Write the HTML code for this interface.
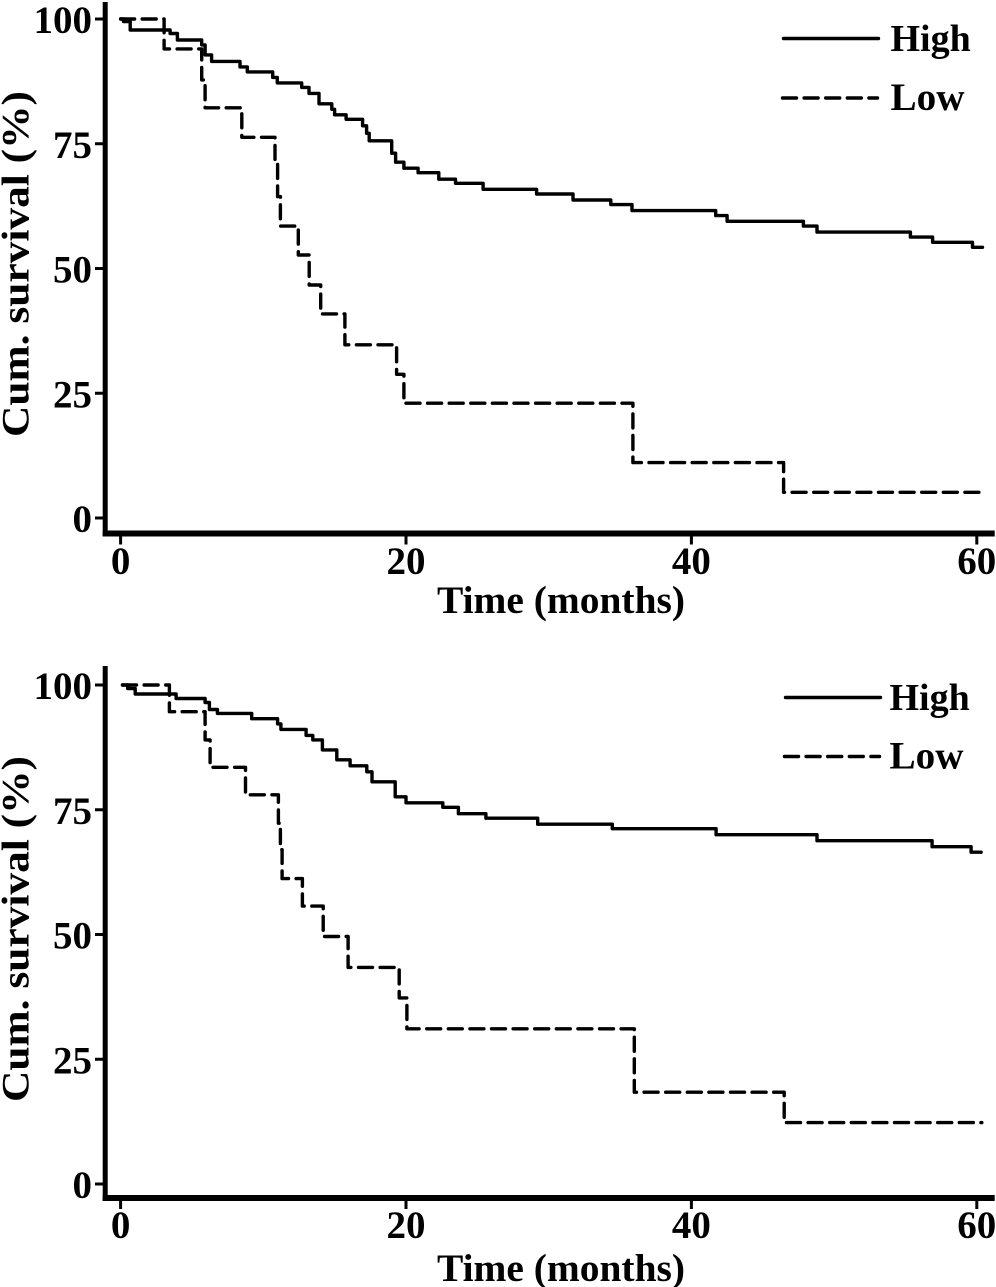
<!DOCTYPE html>
<html>
<head>
<meta charset="utf-8">
<title>Survival curves</title>
<style>
html,body{margin:0;padding:0;background:#fff;width:996px;height:1287px;overflow:hidden}
svg{display:block}
text{font-family:"Liberation Serif",serif;font-weight:bold;fill:#000}
</style>
</head>
<body>
<svg id="chart" width="996" height="1287" viewBox="0 0 996 1287" xmlns="http://www.w3.org/2000/svg">
  <g id="panel-top"></g>
  <g id="panel-bottom"></g>
</svg>
<script>
const xTickLabels = [0, 20, 40, 60];
const yTickLabels = [0, 25, 50, 75, 100];
const seriesNames = ["High", "Low"];
const xAxisTitle = "Time (months)";
const yAxisTitle = "Cum. survival (%)";

const topHighTimes = [0, 0.2, 0.67, 3.47, 3.98, 5.68, 5.92, 6.38, 8.37, 8.88, 10.66, 10.98, 12.69, 13.2, 13.9, 14.8, 15.0, 15.8, 16.96, 17.24, 17.42, 19.0, 19.27, 19.85, 20.85, 22.3, 23.47, 25.4, 29.15, 31.7, 34.35, 35.84, 41.7, 42.5, 47.85, 48.8, 55.35, 56.9, 59.7, 60.4];
const topHighSurvival = [100, 99.5, 97.8, 97.1, 95.8, 94.8, 92.8, 91.5, 90.4, 89.4, 88.3, 87.2, 86.3, 85.1, 83, 81.9, 80.8, 79.9, 78.6, 77.1, 75.6, 73.1, 71.3, 70.1, 69.2, 67.9, 67.07, 65.87, 64.93, 63.73, 62.8, 61.6, 60.6, 59.45, 58.5, 57.3, 56.3, 55.25, 54.25, 54.25];
const topLowTimes = [0, 3.05, 5.68, 5.92, 8.49, 10.82, 11.0, 11.2, 12.45, 13.22, 14.02, 15.72, 19.34, 19.85, 35.9, 46.46, 60.4];
const topLowSurvival = [100, 94, 87.8, 82.2, 76.3, 71, 64.4, 58.5, 52.7, 46.7, 40.9, 34.7, 28.8, 23, 11.1, 5.15, 5.15];

const bottomHighTimes = [0.13, 0.5, 1.02, 3.89, 5.92, 6.22, 6.78, 9.19, 11.0, 11.23, 13.0, 13.47, 14.14, 15.15, 16.08, 17.25, 17.62, 19.24, 20.0, 22.58, 23.67, 25.6, 29.23, 34.46, 41.73, 48.8, 56.87, 59.6, 60.3];
const bottomHighSurvival = [100, 99.3, 98.2, 97.3, 96.5, 95.1, 94.3, 93.25, 92.2, 91.1, 89.9, 89, 87, 85, 83.8, 82.6, 80.6, 77.6, 76.4, 75.5, 74.2, 73.3, 72.1, 71.2, 70, 68.8, 67.6, 66.5, 66.5];
const bottomLowTimes = [0.13, 3.42, 5.92, 6.27, 8.75, 11.06, 11.2, 11.32, 12.74, 14.2, 15.94, 19.52, 20.06, 36.0, 46.5, 60.35];
const bottomLowSurvival = [100, 94.65, 89, 83.5, 78, 72.3, 67, 61.2, 55.7, 49.6, 43.4, 37.3, 31.1, 18.4, 12.3, 12.3];

const NS = "http://www.w3.org/2000/svg";
const LINE_W = 3.4;
const DASH = "14 7.6";

function make(tag, parent, attrs, name) {
  const el = document.createElementNS(NS, tag);
  for (const k in attrs) el.setAttribute(k, attrs[k]);
  
  
  parent.appendChild(el);
  return el;
}

function stepPath(times, values, xf, yf) {
  let d = "M" + xf(times[0]).toFixed(1) + " " + yf(values[0]).toFixed(1);
  for (let i = 1; i < times.length; i++) {
    d += "H" + xf(times[i]).toFixed(1) + "V" + yf(values[i]).toFixed(1);
  }
  return d;
}

function drawPanel(g, cfg) {
  const xf = t => cfg.x0 + 14.27 * t;
  const yf = s => cfg.y0 - 4.99 * s;

  make('rect', g, {x: 102.7, y: cfg.spineTop, width: 5, height: cfg.axisY + 3 - cfg.spineTop, fill: '#000'}, 'y-axis-line');
  make('rect', g, {x: 102.7, y: cfg.axisY - 3, width: 892, height: 6, fill: '#000'}, 'x-axis-line');

  for (const v of yTickLabels) {
    make('rect', g, {x: 95, y: yf(v) - 1.5, width: 8, height: 3, fill: '#000'}, 'y-tick-' + v);
    const lbl = make('text', g, {x: 92, y: yf(v) + 14, 'font-size': 39, 'text-anchor': 'end'}, 'y-tick-label-' + v);
    lbl.textContent = v;
  }
  for (const v of xTickLabels) {
    make('rect', g, {x: xf(v) - 1.5, y: cfg.axisY + 3, width: 3, height: 8, fill: '#000'}, 'x-tick-' + v);
    const lbl = make('text', g, {x: xf(v), y: cfg.axisY + cfg.xLabelDy, 'font-size': 39, 'text-anchor': 'middle'}, 'x-tick-label-' + v);
    lbl.textContent = v;
  }

  const xt = make('text', g, {x: 561, y: cfg.xTitleY, 'font-size': 39, 'text-anchor': 'middle', textLength: 248, lengthAdjust: 'spacingAndGlyphs'}, 'x-axis-title');
  xt.textContent = xAxisTitle;
  const yt = make('text', g, {x: 0, y: 0, 'font-size': 39, 'text-anchor': 'middle', textLength: 346, lengthAdjust: 'spacingAndGlyphs',
    transform: 'translate(28.5 ' + cfg.yTitleCy + ') rotate(-90)'}, 'y-axis-title');
  yt.textContent = yAxisTitle;

  make('path', g, {d: stepPath(cfg.highT, cfg.highS, xf, yf), fill: 'none', stroke: '#000', 'stroke-width': LINE_W,
    'stroke-linejoin': 'round', 'stroke-linecap': 'round'}, 'high-survival-curve');
  make('path', g, {d: stepPath(cfg.lowT, cfg.lowS, xf, yf), fill: 'none', stroke: '#000', 'stroke-width': LINE_W,
    'stroke-dasharray': DASH, 'stroke-linejoin': 'round', 'stroke-linecap': 'round'}, 'low-survival-curve');

  make('line', g, {x1: cfg.legX, x2: cfg.legX + 95, y1: cfg.legY1, y2: cfg.legY1, stroke: '#000', 'stroke-width': LINE_W, 'stroke-linecap': 'round'}, 'legend-line-high');
  make('line', g, {x1: cfg.legX - 1, x2: cfg.legX + 94, y1: cfg.legY2, y2: cfg.legY2, stroke: '#000', 'stroke-width': LINE_W, 'stroke-dasharray': DASH, 'stroke-linecap': 'round'}, 'legend-line-low');
  const l1 = make('text', g, {x: cfg.legTextX, y: cfg.legY1 + 12.5, 'font-size': 38}, 'legend-label-high');
  l1.textContent = seriesNames[0];
  const l2 = make('text', g, {x: cfg.legTextX, y: cfg.legY2 + 12, 'font-size': 39, textLength: 74, lengthAdjust: 'spacingAndGlyphs'}, 'legend-label-low');
  l2.textContent = seriesNames[1];
}

drawPanel(document.getElementById('panel-top'), {
  x0: 120.6, y0: 518, spineTop: 2, axisY: 533.5, xLabelDy: 40.5, xTitleY: 613, yTitleCy: 264,
  legX: 783.5, legY1: 38.5, legY2: 98, legTextX: 890.5,
  highT: topHighTimes, highS: topHighSurvival, lowT: topLowTimes, lowS: topLowSurvival
});
drawPanel(document.getElementById('panel-bottom'), {
  x0: 120.6, y0: 1184, spineTop: 666, axisY: 1198, xLabelDy: 40, xTitleY: 1281, yTitleCy: 929,
  legX: 785.5, legY1: 697.5, legY2: 756.5, legTextX: 889.5,
  highT: bottomHighTimes, highS: bottomHighSurvival, lowT: bottomLowTimes, lowS: bottomLowSurvival
});
</script>
</body>
</html>
